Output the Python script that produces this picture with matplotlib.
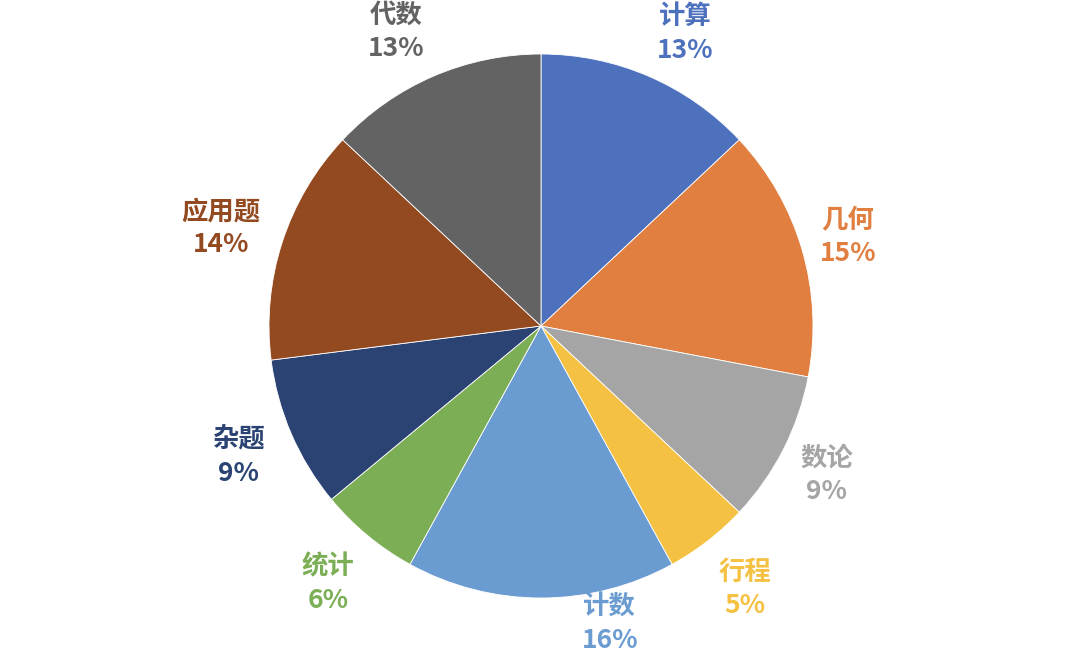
import numpy as np
import matplotlib
matplotlib.use("Agg")
import matplotlib.pyplot as plt

plt.rcParams['font.family'] = ['Noto Sans CJK SC', 'DejaVu Sans']

# data
names = ["计算", "几何", "数论", "行程", "计数", "统计", "杂题", "应用题", "代数"]
shares = [13, 15, 9, 5, 16, 6, 9, 14, 13]
colors = ["#4E71BE", "#E07F40", "#A5A5A5", "#F4C142", "#6A9BD1",
          "#7BAE55", "#2B4373", "#944A20", "#636363"]

fig = plt.figure(figsize=(10.8, 6.54), dpi=100)
ax = fig.add_axes([0, 0, 1, 1])

wedges, _ = ax.pie(shares, colors=colors, startangle=90, counterclock=False,
                   radius=1.0, wedgeprops=dict(linewidth=0.6, edgecolor="white"))

R = 272.0  # pie radius in pixels
cx, cy = 541.0, 326.0  # centre in pixels from top-left
ax.set_aspect("auto")
ax.set_xlim(-cx / R, (1080 - cx) / R)
ax.set_ylim(-(654 - cy) / R, cy / R)
ax.axis("off")

# label placement tweaks (angle in deg, radial distance) to follow Excel's layout
nudge = {
    "计算": (-2.9, -0.01),
    "几何": (0.0, -0.035),
    "数论": (-0.5, -0.025),
    "行程": (0.0, 0.015),
    "计数": (13.0, -0.087),
    "统计": (0.0, 0.02),
    "应用题": (1.0, 0.02),
    "代数": (2.9, -0.005),
}

for w, name, val, col in zip(wedges, names, shares, colors):
    mid = np.deg2rad((w.theta1 + w.theta2) / 2)
    dang, ddist = nudge.get(name, (0.0, 0.0))
    mid += np.deg2rad(dang)
    dist = 1.21 + ddist
    x, y = dist * np.cos(mid), dist * np.sin(mid)
    ax.text(x, y, f"{name}\n{val}%", ha="center", va="center",
            color=col, fontsize=19, fontweight="bold", linespacing=1.3)

fig.savefig("out.png", dpi=100)
